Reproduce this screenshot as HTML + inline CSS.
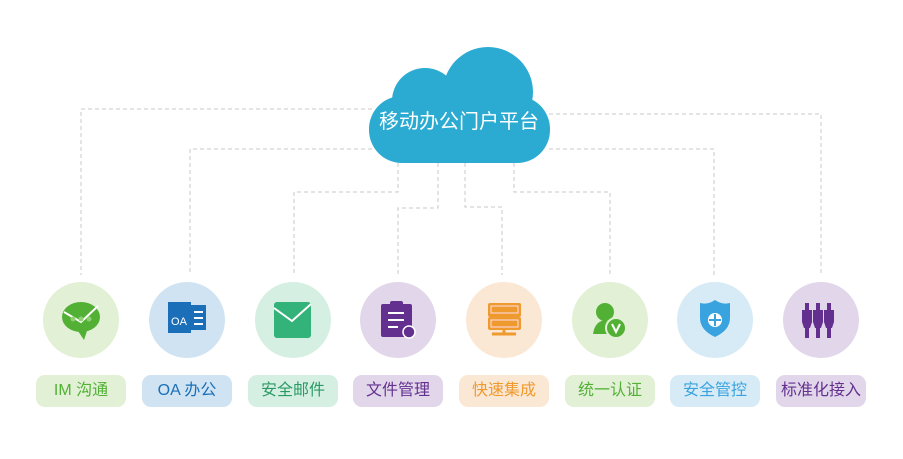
<!DOCTYPE html>
<html><head><meta charset="utf-8"><style>
body{margin:0;width:903px;height:459px;background:#fff;overflow:hidden;font-family:"Liberation Sans","Noto Sans CJK SC",sans-serif}
.c{position:absolute;width:76px;height:76px;border-radius:50%;top:282px}
.l{position:absolute;top:375px;width:90px;height:32px;border-radius:9px;line-height:32px;text-align:center;font-size:16px}
svg{position:absolute;left:0;top:0}
</style></head><body>
<svg width="903" height="459">
<g fill="none" stroke="#c8c8c8" stroke-width="1" stroke-dasharray="4,3">
<path d="M372 109H81V275"/><path d="M549 114H821V275"/>
<path d="M372 149H190V275"/><path d="M549 149H714V275"/>
<path d="M398 163V192H294V275"/><path d="M438 163V208H398V275"/>
<path d="M465 163V207H502V275"/><path d="M514 163V192H610V275"/>
</g>
<g fill="#2cabd2">
<circle cx="488" cy="92" r="45"/><circle cx="425" cy="101" r="33"/>
<rect x="369" y="96" width="181" height="67" rx="33"/>
</g>
<text x="459" y="128" fill="#fff" font-size="20" text-anchor="middle" font-family="Liberation Sans,Noto Sans CJK SC,sans-serif">移动办公门户平台</text>
</svg>
<div class="c" style="left:43px;background:#e2f0d6"></div>
<div class="c" style="left:149px;background:#d0e3f2"></div>
<div class="c" style="left:255px;background:#d5efe2"></div>
<div class="c" style="left:360px;background:#e2d7ea"></div>
<div class="c" style="left:466px;background:#fbe8d4"></div>
<div class="c" style="left:572px;background:#e2f0d6"></div>
<div class="c" style="left:677px;background:#d6ebf6"></div>
<div class="c" style="left:783px;background:#e2d7ea"></div>
<svg width="903" height="459">
<ellipse cx="81" cy="317" rx="19" ry="15" fill="#52b135"/><path d="M76 328L84 340L88 328Z" fill="#52b135"/>
<path d="M64 312L81 322L98 306" stroke="#fff" stroke-width="2" fill="none"/>
<circle cx="73" cy="319" r="2.5" fill="#8fd070"/><circle cx="81" cy="319" r="2.5" fill="#8fd070"/><circle cx="89" cy="319" r="2.5" fill="#8fd070"/>
<rect x="168" y="302" width="23" height="31" fill="#1a6fb8"/><rect x="191" y="305" width="15" height="25" fill="#1a6fb8"/>
<text x="179" y="325" fill="#fff" font-size="11" text-anchor="middle">OA</text>
<g stroke="#fff" stroke-width="2"><path d="M194 312h9M194 318h9M194 324h9"/></g>
<rect x="274" y="302" width="37" height="36" rx="3" fill="#33b379"/>
<path d="M274 308L292 321L311 304" stroke="#fff" stroke-width="2" fill="none"/>
<rect x="381" y="304" width="31" height="33" rx="2" fill="#63308f"/><rect x="390" y="301" width="13" height="5" rx="2" fill="#63308f"/>
<g stroke="#fff" stroke-width="2"><path d="M388 313h16M388 320h16M388 327h10"/></g>
<circle cx="409" cy="332" r="6" fill="#63308f" stroke="#fff" stroke-width="1.5"/>
<rect x="488" y="303" width="33" height="14" rx="2" fill="#ef9a2e"/><rect x="488" y="317" width="33" height="13" rx="2" fill="#ef9a2e"/>
<rect x="491" y="306" width="27" height="7" fill="none" stroke="#fde" stroke-width="1"/><rect x="491" y="320" width="27" height="7" fill="none" stroke="#fde" stroke-width="1"/>
<path d="M504 330v4M492 334h24" stroke="#ef9a2e" stroke-width="3"/>
<circle cx="605" cy="312" r="9" fill="#52b135"/><path d="M593 334q2-14 14-14l4 14Z" fill="#52b135"/>
<circle cx="616" cy="328" r="10" fill="#52b135" stroke="#e2f0d6" stroke-width="2"/>
<path d="M612 324l4 8l4-8" stroke="#fff" stroke-width="2" fill="none"/>
<path d="M700 303q8 2 15-3q7 5 15 3v15q0 12-15 19q-15-7-15-19Z" fill="#38a3df"/>
<circle cx="715" cy="320" r="7" fill="#fff"/><path d="M715 314v12M709 320h12" stroke="#38a3df" stroke-width="2"/>
<g fill="#63308f"><path d="M805 303h4v35h-4z"/><path d="M816 303h4v35h-4z"/><path d="M827 303h4v35h-4z"/>
<rect x="802" y="310" width="10" height="12"/><rect x="813" y="310" width="10" height="12"/><rect x="824" y="310" width="10" height="12"/>
<path d="M802 322h10l-2 6h-6z"/><path d="M813 322h10l-2 6h-6z"/><path d="M824 322h10l-2 6h-6z"/></g>
</svg>
<div class="l" style="left:36px;background:#e2f0d6;color:#52b135">IM 沟通</div>
<div class="l" style="left:142px;background:#d0e3f2;color:#1a6fb8">OA 办公</div>
<div class="l" style="left:248px;background:#d5efe2;color:#2a9a64">安全邮件</div>
<div class="l" style="left:353px;background:#e2d7ea;color:#63308f">文件管理</div>
<div class="l" style="left:459px;background:#fbe8d4;color:#ef9a2e">快速集成</div>
<div class="l" style="left:565px;background:#e2f0d6;color:#52b135">统一认证</div>
<div class="l" style="left:670px;background:#d6ebf6;color:#38a3df">安全管控</div>
<div class="l" style="left:776px;background:#e2d7ea;color:#63308f">标准化接入</div>
</body></html>
